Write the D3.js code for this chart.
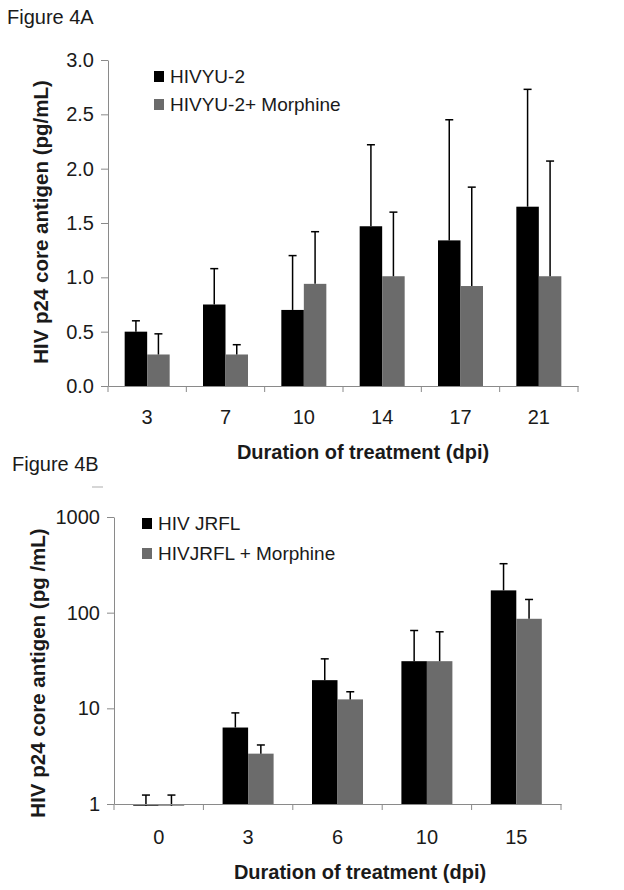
<!DOCTYPE html>
<html>
<head>
<meta charset="utf-8">
<script src="https://cdn.jsdelivr.net/npm/d3@7"></script>
<style>
  html, body { margin: 0; padding: 0; background: #fff; }
  svg { display: block; }
  text { font-family: "Liberation Sans", Arial, Helvetica, sans-serif; fill: #1a1a1a; }
</style>
</head>
<body>
<svg id="chart" width="624" height="890"></svg>
<script>
// ---------- Figure 4A data ----------
const catsA = ["3", "7", "10", "14", "17", "21"];
const seriesA = ["HIVYU-2", "HIVYU-2+ Morphine"];
const yu2 = [0.50, 0.75, 0.70, 1.47, 1.34, 1.65];
const yu2Err = [0.10, 0.33, 0.50, 0.75, 1.11, 1.08];
const yu2Morph = [0.29, 0.29, 0.94, 1.01, 0.92, 1.01];
const yu2MorphErr = [0.19, 0.09, 0.48, 0.59, 0.91, 1.06];
const ticksA = [0, 0.5, 1.0, 1.5, 2.0, 2.5, 3.0];

// ---------- Figure 4B data ----------
const catsB = ["0", "3", "6", "10", "15"];
const seriesB = ["HIV JRFL", "HIVJRFL + Morphine"];
const jrfl = [0.96, 6.3, 19.7, 31.1, 171];
const jrflErr = [0.28, 2.66, 13.2, 34.0, 154];
const jrflMorph = [0.96, 3.36, 12.4, 31.1, 86.3];
const jrflMorphErr = [0.28, 0.78, 2.5, 32.0, 51.1];
const ticksB = [1, 10, 100, 1000];

const colors = ["#000000", "#6b6b6b"];
const axisColor = "#8a8a8a";

const svg = d3.select("#chart");

function drawPanel(cfg) {
  const g = svg.append("g");
  const x = d3.scaleBand().domain(cfg.cats).range([cfg.x0, cfg.x1]).padding(0);
  const y = cfg.y;
  const bw = cfg.barW;
  const base = y.domain()[0];

  // bars
  cfg.series.forEach((vals, si) => {
    g.selectAll(null).data(vals).enter().append("rect")
      .attr("x", (d, i) => x(cfg.cats[i]) + x.bandwidth() / 2 - bw + si * bw)
      .attr("width", bw)
      .attr("y", d => Math.min(y(d), y(base)))
      .attr("height", d => Math.max(Math.abs(y(base) - y(d)), 1.5))
      .attr("fill", colors[si]);
  });

  // error bars (upper only)
  cfg.series.forEach((vals, si) => {
    const errs = cfg.errs[si];
    const cx = (d, i) => x(cfg.cats[i]) + x.bandwidth() / 2 - bw + si * bw + bw / 2;
    g.selectAll(null).data(vals).enter().append("line")
      .attr("x1", cx).attr("x2", cx)
      .attr("y1", d => y(d))
      .attr("y2", (d, i) => y(d + errs[i]))
      .attr("stroke", "#000").attr("stroke-width", 1.5);
    g.selectAll(null).data(vals).enter().append("line")
      .attr("x1", (d, i) => cx(d, i) - 4).attr("x2", (d, i) => cx(d, i) + 4)
      .attr("y1", (d, i) => y(d + errs[i]))
      .attr("y2", (d, i) => y(d + errs[i]))
      .attr("stroke", "#000").attr("stroke-width", 1.5);
  });

  // y axis
  const ya = g.append("g").attr("transform", `translate(${cfg.x0},0)`)
    .call(d3.axisLeft(y).tickValues(cfg.yTicks).tickFormat(cfg.yFormat).tickSize(7).tickPadding(7).tickSizeOuter(0));
  ya.select(".domain").attr("stroke", axisColor);
  ya.selectAll(".tick line").attr("stroke", axisColor);
  ya.selectAll(".tick text").style("font-size", "20px").attr("fill", "#1a1a1a")
    .style("font-family", "'Liberation Sans', Arial, sans-serif");

  // x axis: labels at band centers
  const xa = g.append("g").attr("transform", `translate(0,${y(base)})`)
    .call(d3.axisBottom(x).tickSize(0).tickSizeOuter(0));
  xa.select(".domain").attr("stroke", axisColor);
  xa.selectAll(".tick text").attr("y", cfg.xLabelDy).attr("dy", 0)
    .style("font-size", "20px").attr("fill", "#1a1a1a")
    .style("font-family", "'Liberation Sans', Arial, sans-serif");
  // boundary ticks
  const bounds = cfg.cats.map(c => x(c)).concat([x(cfg.cats[cfg.cats.length - 1]) + x.step()]);
  xa.selectAll(null).data(bounds).enter().append("line")
    .attr("x1", d => d).attr("x2", d => d).attr("y1", 0).attr("y2", 6)
    .attr("stroke", axisColor);

  // axis titles
  g.append("text").attr("x", cfg.xTitleX).attr("y", cfg.xTitleY)
    .attr("text-anchor", "middle").style("font-size", "20px").style("font-weight", "bold")
    .text("Duration of treatment (dpi)");
  g.append("text")
    .attr("transform", `translate(${cfg.yTitleX},${cfg.yTitleY}) rotate(-90)`)
    .attr("text-anchor", "middle").style("font-size", "20.5px").style("font-weight", "bold")
    .text(cfg.yTitle);

  // legend
  cfg.names.forEach((n, i) => {
    const ly = cfg.legY + i * cfg.legStep;
    g.append("rect").attr("x", cfg.legX).attr("y", ly - 12).attr("width", 10).attr("height", 11)
      .attr("fill", colors[i]);
    g.append("text").attr("x", cfg.legX + 16).attr("y", ly)
      .style("font-size", "19px").text(n);
  });

  // panel label
  g.append("text").attr("x", cfg.labelX).attr("y", cfg.labelY).style("font-size", "20px").text(cfg.label);
}

drawPanel({
  label: "Figure 4A", labelX: 7, labelY: 24,
  cats: catsA, x0: 108, x1: 578, barW: 22.5,
  y: d3.scaleLinear().domain([0, 3]).range([386, 60]),
  yTicks: ticksA, yFormat: d3.format(".1f"),
  series: [yu2, yu2Morph], errs: [yu2Err, yu2MorphErr], names: seriesA,
  xLabelDy: 38, xTitleX: 363, xTitleY: 459,
  yTitle: "HIV p24 core antigen (pg/mL)", yTitleX: 48, yTitleY: 222,
  legX: 154, legY: 83, legStep: 28
});

drawPanel({
  label: "Figure 4B", labelX: 12, labelY: 471,
  cats: catsB, x0: 114, x1: 561, barW: 25.5,
  y: d3.scaleLog().domain([1, 1000]).range([804, 517]),
  yTicks: ticksB, yFormat: d3.format("d"),
  series: [jrfl, jrflMorph], errs: [jrflErr, jrflMorphErr], names: seriesB,
  xLabelDy: 40, xTitleX: 360, xTitleY: 879,
  yTitle: "HIV p24 core antigen (pg /mL)", yTitleX: 45, yTitleY: 673,
  legX: 142, legY: 530, legStep: 30
});

// small stray mark under "Figure 4B"
svg.append("line").attr("x1", 92).attr("x2", 103).attr("y1", 487).attr("y2", 487)
  .attr("stroke", "#c8c8c8").attr("stroke-width", 1.5);
</script>
</body>
</html>
